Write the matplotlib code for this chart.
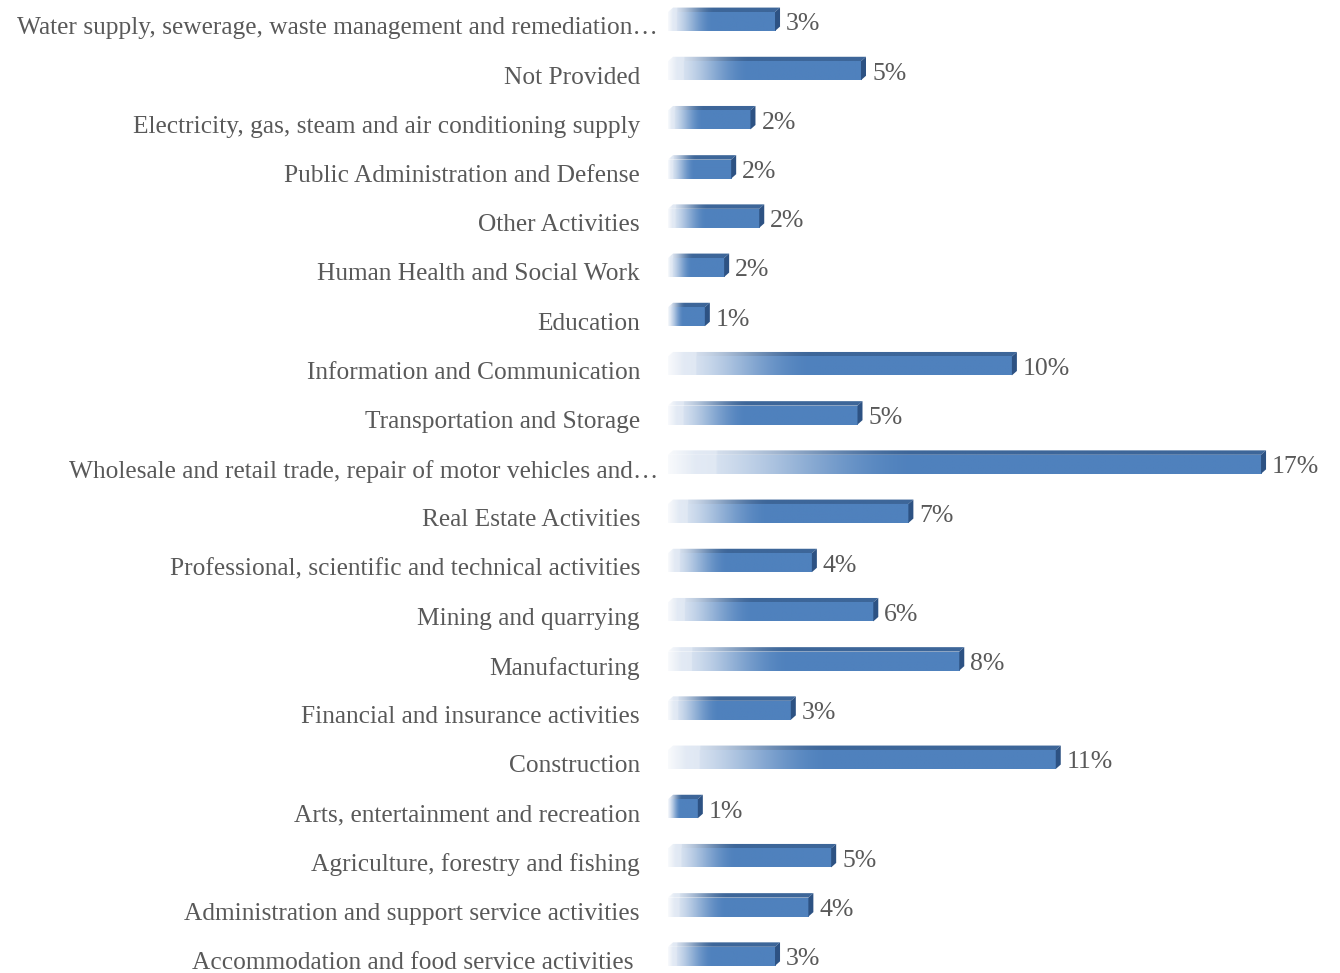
import numpy as np
import matplotlib.pyplot as plt
from matplotlib.patches import Polygon
from matplotlib.colors import to_rgb

categories = [
    "Water supply, sewerage, waste management and remediation\u2026",
    "Not Provided",
    "Electricity, gas, steam and air conditioning supply",
    "Public Administration and Defense",
    "Other Activities",
    "Human Health and Social Work",
    "Education",
    "Information and Communication",
    "Transportation and Storage",
    "Wholesale and retail trade, repair of motor vehicles and\u2026",
    "Real Estate Activities",
    "Professional, scientific and technical activities",
    "Mining and quarrying",
    "Manufacturing",
    "Financial and insurance activities",
    "Construction",
    "Arts, entertainment and recreation",
    "Agriculture, forestry and fishing",
    "Administration and support service activities",
    "Accommodation and food service activities",
]
# bar lengths (percent)
values = [3.05, 5.5, 2.35, 1.8, 2.6, 1.6, 1.05, 9.8, 5.4, 16.9,
          6.85, 4.1, 5.85, 8.3, 3.5, 11.05, 0.85, 4.65, 4.0, 3.05]
pct_labels = ["3%", "5%", "2%", "2%", "2%", "2%", "1%", "10%", "5%", "17%",
              "7%", "4%", "6%", "8%", "3%", "11%", "1%", "5%", "4%", "3%"]
truncated = [0, 9]

W, H = 1340, 973
fig = plt.figure(figsize=(W / 100, H / 100), dpi=100)
ax = fig.add_axes([668 / W, 0, (W - 668) / W, 1])
ax.set_xlim(0, 19.15)
ax.set_ylim(19.34, -0.437)
ax.axis('off')

blue = np.array(to_rgb('#4f81bd'))
light = np.array(to_rgb('#e4ebf5'))
top_dark = np.array(to_rgb('#3d6699'))
side_dark = '#2d5283'

half = 0.193
dx = 5 / 35.1
dy = 0.09
text_color = '#595959'
font = 'Liberation Serif'


def gradient(base, n=256):
    t = np.linspace(0, 1, n)
    s = np.clip(t / 0.42, 0, 1)
    s = s * s * (3 - 2 * s)
    s = np.where(t < 0.08, s * 0.3, s)
    rgb = light[None, :] * (1 - s[:, None]) + base[None, :] * s[:, None]
    alpha = np.clip(0.25 + t / 0.06, 0, 1)
    return np.dstack([rgb[None, :, :], alpha[None, :, None]])


for i, (cat, v, lab) in enumerate(zip(categories, values, pct_labels)):
    y0, y1 = i - half, i + half
    # front face
    ax.imshow(gradient(blue), extent=(0, v, y1, y0), aspect='auto',
              interpolation='bilinear', zorder=2)
    # top face
    top = Polygon([(0, y0), (v, y0), (v + dx, y0 - dy), (dx, y0 - dy)],
                  closed=True, facecolor='none', edgecolor='none')
    ax.add_patch(top)
    im = ax.imshow(gradient(top_dark), extent=(0, v + dx, y0, y0 - dy),
                   aspect='auto', interpolation='bilinear', zorder=2)
    im.set_clip_path(top)
    # right side
    ax.add_patch(Polygon([(v, y0), (v + dx, y0 - dy), (v + dx, y1 - dy), (v, y1)],
                         closed=True, facecolor=side_dark, edgecolor='none', zorder=3))
    # value label
    ax.annotate(lab, (v + dx, i), xytext=(6, -3), textcoords='offset pixels',
                ha='left', va='center', fontsize=18.5, color=text_color,
                family=font)
    # category label
    if i in truncated:
        off = -10
    elif i == len(categories) - 1:
        off = -34
    else:
        off = -28
    ax.annotate(cat, (0, i), xytext=(off, -7), textcoords='offset pixels',
                ha='right', va='center', fontsize=18.3, color=text_color,
                family=font, annotation_clip=False)

fig.savefig('out.png', dpi=100)
